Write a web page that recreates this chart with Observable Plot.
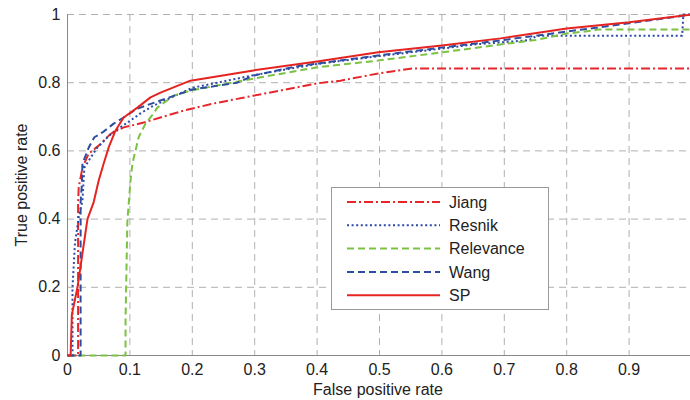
<!DOCTYPE html>
<html><head><meta charset="utf-8">
<script src="https://cdn.jsdelivr.net/npm/d3@7"></script>
<script src="https://cdn.jsdelivr.net/npm/@observablehq/plot@0.6"></script>
<style>body{margin:0;background:#fff;font-family:"Liberation Sans",Arial,sans-serif;}</style>
</head><body><div id="chart"></div>
<script>
const seriesNames = ["Jiang", "Resnik", "Relevance", "Wang", "SP"];

const jiangFPR = [0,0.017,0.017,0.018,0.024,0.034,0.053,0.069,0.090,0.122,0.149,0.186,0.234,0.298,0.341,0.40,0.4375,0.498,0.554,1];
const jiangTPR = [0,0,0.45,0.493,0.551,0.592,0.62,0.65,0.669,0.683,0.698,0.718,0.739,0.762,0.777,0.798,0.806,0.827,0.842,0.842];

const resnikFPR = [0,0.008,0.008,0.012,0.018,0.024,0.027,0.037,0.048,0.064,0.077,0.096,0.117,0.135,0.2,0.298,0.4,0.5,0.6,0.65,0.694,0.74,0.753,0.985,0.987,1];
const resnikTPR = [0,0,0.2,0.33,0.405,0.455,0.551,0.58,0.61,0.64,0.66,0.683,0.71,0.73,0.785,0.822,0.855,0.878,0.9,0.912,0.918,0.925,0.938,0.938,1,1];

const relevanceFPR = [0,0.093,0.093,0.095,0.096,0.101,0.104,0.109,0.114,0.125,0.138,0.144,0.17,0.197,0.298,0.40,0.498,0.60,0.694,0.75,0.80,0.843,0.85,1];
const relevanceTPR = [0,0,0.1,0.3,0.396,0.513,0.563,0.601,0.64,0.68,0.71,0.727,0.762,0.777,0.812,0.845,0.865,0.889,0.912,0.925,0.944,0.953,0.956,0.956];

const wangFPR = [0,0.021,0.021,0.023,0.024,0.026,0.034,0.043,0.056,0.074,0.09,0.112,0.149,0.181,0.2,0.272,0.298,0.373,0.40,0.498,0.60,0.694,0.80,0.90,1];
const wangTPR = [0,0,0.45,0.5,0.566,0.572,0.61,0.64,0.654,0.68,0.698,0.724,0.748,0.768,0.78,0.80,0.821,0.85,0.856,0.88,0.903,0.924,0.95,0.974,1];

const spFPR = [0,0.005,0.007,0.016,0.024,0.032,0.042,0.050,0.058,0.066,0.077,0.090,0.112,0.133,0.149,0.197,0.298,0.40,0.498,0.60,0.694,0.80,0.90,1];
const spTPR = [0,0,0.12,0.2,0.3,0.4,0.45,0.513,0.563,0.61,0.66,0.698,0.727,0.757,0.771,0.806,0.836,0.862,0.889,0.909,0.93,0.959,0.977,1];

const xTicks = [0,0.1,0.2,0.3,0.4,0.5,0.6,0.7,0.8,0.9];
const yTicks = [0,0.2,0.4,0.6,0.8,1];
const xTitle = "False positive rate";
const yTitle = "True positive rate";

const seriesData = [
  [jiangFPR, jiangTPR], [resnikFPR, resnikTPR], [relevanceFPR, relevanceTPR],
  [wangFPR, wangTPR], [spFPR, spTPR]
];
const styles = {
  Jiang: {stroke: "#e5262a", dash: "9,3,2,3"},
  Resnik: {stroke: "#2c4aa6", dash: "2,2.6"},
  Relevance: {stroke: "#7cc242", dash: "7,4"},
  Wang: {stroke: "#2d4d9f", dash: "7,4"},
  SP: {stroke: "#e52421", dash: null}
};

const lineMarks = seriesNames.map((name, i) => {
  const [fx, fy] = seriesData[i];
  const rows = fx.map((v, j) => ({fpr: v, tpr: fy[j]}));
  return Plot.line(rows, {x: "fpr", y: "tpr", stroke: styles[name].stroke, strokeWidth: 2,
    strokeDasharray: styles[name].dash, strokeLinejoin: "round", strokeLinecap: "butt"});
});

const plot = Plot.plot({
  width: 690, height: 400,
  marginLeft: 67, marginRight: 0, marginTop: 14, marginBottom: 45,
  x: {domain: [0, 1], range: [67, 691]},
  y: {domain: [0, 1], range: [355, 14]},
  style: {fontFamily: "'Liberation Sans', Arial, sans-serif", fontSize: "16px", color: "#222", background: "#fff", overflow: "visible"},
  marks: [
    Plot.gridX(xTicks.filter(d => d > 0), {stroke: "#b0b0b0", strokeOpacity: 1, strokeDasharray: "7,5"}),
    Plot.gridY(yTicks.filter(d => d > 0), {stroke: "#b0b0b0", strokeOpacity: 1, strokeDasharray: "7,5"}),
    Plot.axisX(xTicks, {tickSize: 0, tickPadding: 8, tickFormat: d => String(d), label: null, fontSize: 16}),
    Plot.axisY(yTicks, {tickSize: 0, tickPadding: 7, tickFormat: d => String(d), label: null, fontSize: 16}),
    Plot.ruleY([0], {stroke: "#888"}),
    Plot.ruleX([0], {stroke: "#888"}),
    ...lineMarks
  ]
});
document.getElementById("chart").appendChild(plot);

const svg = d3.select(plot);
svg.append("text").attr("x", 378).attr("y", 395).attr("text-anchor", "middle")
  .attr("font-size", 16).attr("fill", "#222").text(xTitle);
svg.append("text").attr("transform", "translate(27,185) rotate(-90)").attr("text-anchor", "middle")
  .attr("font-size", 16).attr("fill", "#222").text(yTitle);

const lg = svg.append("g");
lg.append("rect").attr("x", 331.5).attr("y", 187.5).attr("width", 217).attr("height", 122)
  .attr("fill", "#fff").attr("stroke", "#999");
seriesNames.forEach((name, i) => {
  const yy = 202 + i * 23.3;
  lg.append("line").attr("x1", 347).attr("x2", 440).attr("y1", yy).attr("y2", yy)
    .attr("stroke", styles[name].stroke).attr("stroke-width", 2)
    .attr("stroke-dasharray", styles[name].dash);
  lg.append("text").attr("x", 449).attr("y", yy).attr("dy", "0.35em").attr("text-anchor", "start")
    .attr("font-size", 16).attr("fill", "#222").text(name);
});
</script></body></html>
